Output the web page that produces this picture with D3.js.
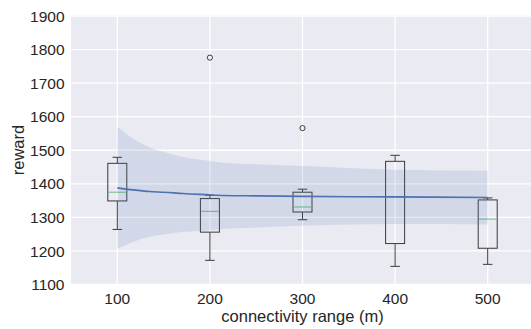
<!DOCTYPE html>
<html>
<head>
<meta charset="utf-8">
<script src="https://cdn.jsdelivr.net/npm/d3@7"></script>
<style>
  body { margin: 0; background: #fff; }
  svg { display: block; font-family: "Liberation Sans", Arial, sans-serif; }
</style>
</head>
<body>
<div id="wrapper"></div>
<script>
width = 531
height = 329

// box stats
const ranges = [100, 200, 300, 400, 500]
const whiskerLow = [1264, 1172, 1293, 1154, 1160]
const q1 = [1349, 1256, 1316, 1222, 1208]
const median = [1375, 1318, 1331, 1361, 1295]
const q3 = [1461, 1356, 1375, 1467, 1352]
const whiskerHigh = [1479, 1366, 1384, 1485, 1358]
const outliers = [[200, 1776], [300, 1566]]

// fitted line + confidence band
const fitX = [100, 117, 135, 150, 171, 200, 207, 250, 300, 400, 500]
const fitY = [1388, 1382, 1377, 1375, 1371, 1367, 1366, 1364, 1362.5, 1361, 1359]
const bandHigh = [1570, 1535, 1508, 1495, 1480, 1468, 1465, 1458, 1453, 1442, 1439]
const bandLow = [1207, 1227, 1242, 1249, 1257, 1262, 1264, 1270, 1275, 1280, 1279]

const yTicks = [1100, 1200, 1300, 1400, 1500, 1600, 1700, 1800, 1900]

const margin = {left: 71, right: 534, top: 15, bottom: 285}

const x = d3.scaleLinear().domain([50, 550]).range([margin.left, margin.right])
const y = d3.scaleLinear().domain([1100, 1900]).range([284.5, 16])

const svg = d3.select("#wrapper").append("svg")
    .attr("width", width)
    .attr("height", height)

svg.append("rect")
    .attr("x", margin.left)
    .attr("y", margin.top)
    .attr("width", margin.right - margin.left)
    .attr("height", margin.bottom - margin.top)
    .attr("fill", "#eaeaf2")

// grid
svg.append("g")
    .selectAll("line")
    .data(yTicks)
    .join("line")
    .attr("x1", margin.left).attr("x2", margin.right)
    .attr("y1", d => y(d)).attr("y2", d => y(d))
    .attr("stroke", "#fff").attr("stroke-width", 1.3)

svg.append("g")
    .selectAll("line")
    .data(ranges)
    .join("line")
    .attr("x1", d => x(d)).attr("x2", d => x(d))
    .attr("y1", margin.top).attr("y2", margin.bottom)
    .attr("stroke", "#fff").attr("stroke-width", 1.3)

// tick labels
svg.append("g")
    .selectAll("text")
    .data(yTicks)
    .join("text")
    .attr("x", 64.5)
    .attr("y", d => y(d))
    .attr("dy", "0.36em")
    .attr("text-anchor", "end")
    .attr("fill", "#262626")
    .style("font-size", "15.5px")
    .text(d => d)

svg.append("g")
    .selectAll("text")
    .data(ranges)
    .join("text")
    .attr("x", d => x(d))
    .attr("y", 304)
    .attr("text-anchor", "middle")
    .attr("fill", "#262626")
    .style("font-size", "15.5px")
    .text(d => d)

svg.append("text")
    .attr("x", (margin.left + margin.right) / 2)
    .attr("y", 322)
    .attr("text-anchor", "middle")
    .attr("fill", "#262626")
    .style("font-size", "16.5px")
    .text("connectivity range (m)")

svg.append("text")
    .attr("transform", `translate(24,${(margin.top + margin.bottom) / 2}) rotate(-90)`)
    .attr("text-anchor", "middle")
    .attr("fill", "#262626")
    .style("font-size", "16.5px")
    .text("reward")

// boxes
const boxW = 19, capW = 9.5
const boxes = svg.append("g")
    .selectAll("g")
    .data(ranges)
    .join("g")
    .attr("stroke", "#3a3a3a")
    .attr("stroke-width", 1)
    .attr("fill", "none")

boxes.append("line")
    .attr("x1", d => x(d)).attr("x2", d => x(d))
    .attr("y1", (d, i) => y(whiskerHigh[i])).attr("y2", (d, i) => y(q3[i]))
boxes.append("line")
    .attr("x1", d => x(d)).attr("x2", d => x(d))
    .attr("y1", (d, i) => y(q1[i])).attr("y2", (d, i) => y(whiskerLow[i]))
boxes.append("line")
    .attr("x1", d => x(d) - capW / 2).attr("x2", d => x(d) + capW / 2)
    .attr("y1", (d, i) => y(whiskerHigh[i])).attr("y2", (d, i) => y(whiskerHigh[i]))
boxes.append("line")
    .attr("x1", d => x(d) - capW / 2).attr("x2", d => x(d) + capW / 2)
    .attr("y1", (d, i) => y(whiskerLow[i])).attr("y2", (d, i) => y(whiskerLow[i]))
boxes.append("rect")
    .attr("x", d => x(d) - boxW / 2)
    .attr("y", (d, i) => y(q3[i]))
    .attr("width", boxW)
    .attr("height", (d, i) => y(q1[i]) - y(q3[i]))
boxes.append("line")
    .attr("stroke", "#6fbf7f")
    .attr("x1", d => x(d) - boxW / 2 + 0.5).attr("x2", d => x(d) + boxW / 2 - 0.5)
    .attr("y1", (d, i) => y(median[i])).attr("y2", (d, i) => y(median[i]))

svg.append("g")
    .selectAll("circle")
    .data(outliers)
    .join("circle")
    .attr("cx", d => x(d[0]))
    .attr("cy", d => y(d[1]))
    .attr("r", 2.6)
    .attr("fill", "none")
    .attr("stroke", "#3a3a3a")
    .attr("stroke-width", 1)

// confidence band and fit line
const band = d3.area()
    .x((d, i) => x(fitX[i]))
    .y0((d, i) => y(bandLow[i]))
    .y1((d, i) => y(bandHigh[i]))
    .curve(d3.curveMonotoneX)

svg.append("path")
    .datum(fitX)
    .attr("d", band)
    .attr("fill", "#4c72b0")
    .attr("fill-opacity", 0.15)

const line = d3.line()
    .x((d, i) => x(fitX[i]))
    .y((d, i) => y(fitY[i]))
    .curve(d3.curveMonotoneX)

svg.append("path")
    .datum(fitX)
    .attr("d", line)
    .attr("fill", "none")
    .attr("stroke", "#4c72b0")
    .attr("stroke-width", 1.6)
</script>
</body>
</html>
